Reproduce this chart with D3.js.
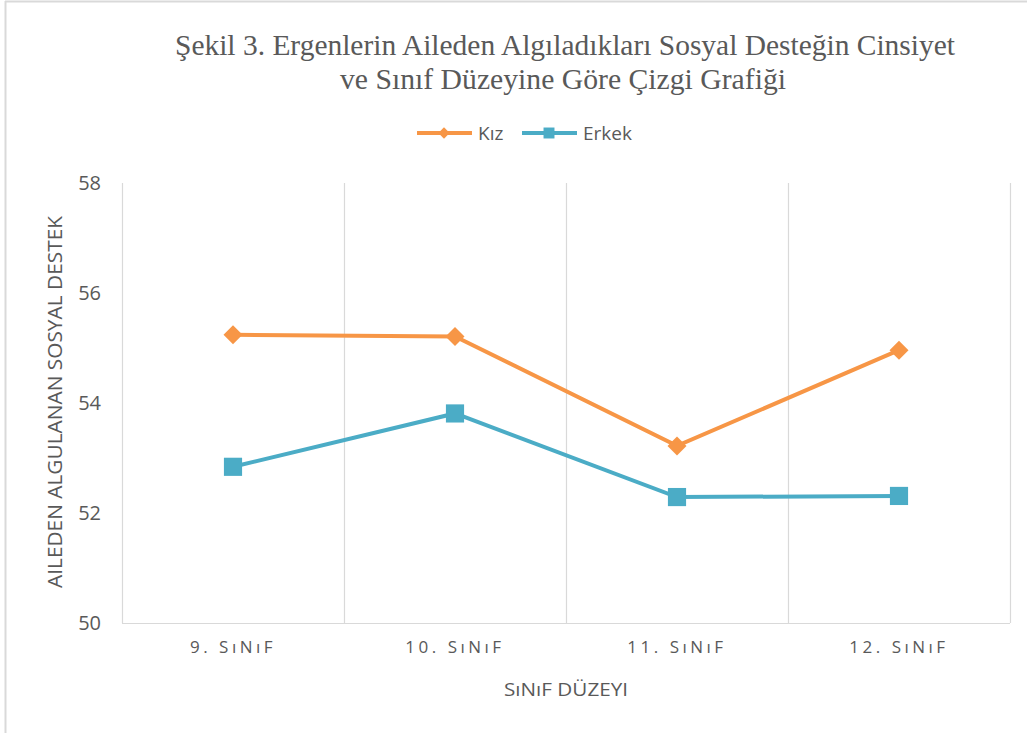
<!doctype html>
<html>
<head>
<meta charset="utf-8">
<title>Şekil 3</title>
<script src="https://d3js.org/d3.v7.min.js"></script>
<style>
  body { margin: 0; background: #fff; }
</style>
</head>
<body>
<script>
// data
var categories = ["9. SıNıF", "10. SıNıF", "11. SıNıF", "12. SıNıF"];
var kizValues = [55.24, 55.21, 53.22, 54.96];
var erkekValues = [52.84, 53.81, 52.29, 52.31];
var yTicks = [50, 52, 54, 56, 58];
var seriesNames = ["Kız", "Erkek"];

var width = 1027, height = 733;
var margin = {left: 122, right: 17, top: 183, bottom: 110};
var sansFont = "'Liberation Sans Narrow', 'Open Sans', sans-serif";

var svg = d3.select("body").append("svg")
    .attr("width", width)
    .attr("height", height);

// outer frame
svg.append("line").attr("x1", 5).attr("x2", width).attr("y1", 1.5).attr("y2", 1.5)
    .style("stroke", "#d9d9d9").style("stroke-width", 2);
svg.append("line").attr("x1", 5.5).attr("x2", 5.5).attr("y1", 1).attr("y2", height)
    .style("stroke", "#d9d9d9").style("stroke-width", 2);

var x = d3.scaleBand()
    .domain(categories)
    .range([margin.left, width - margin.right]);

var y = d3.scaleLinear()
    .domain([50, 58])
    .range([height - margin.bottom, margin.top]);

// vertical gridlines between categories + right edge
var gridX = categories.slice(1).map(function(c) { return x(c); });
gridX.push(x.range()[1]);
svg.selectAll(".grid")
    .data(gridX)
    .enter()
    .append("line")
    .attr("x1", function(d) { return d + 0.5; })
    .attr("x2", function(d) { return d + 0.5; })
    .attr("y1", y(58))
    .attr("y2", y(50))
    .style("stroke", "#d9d9d9")
    .style("stroke-width", 1.2);

// axis lines
svg.append("line").attr("x1", x.range()[0] + 0.5).attr("x2", x.range()[0] + 0.5)
    .attr("y1", y(58)).attr("y2", y(50)).style("stroke", "#d9d9d9").style("stroke-width", 1.2);
svg.append("line").attr("x1", x.range()[0]).attr("x2", x.range()[1])
    .attr("y1", y(50) + 0.5).attr("y2", y(50) + 0.5).style("stroke", "#d9d9d9").style("stroke-width", 1.2);

// y tick labels
var yAxis = d3.axisLeft(y).tickValues(yTicks).tickSize(0).tickPadding(21);
var gy = svg.append("g")
    .attr("transform", "translate(" + x.range()[0] + ",0)")
    .call(yAxis);
gy.select(".domain").remove();
gy.selectAll("text")
    .style("font-family", sansFont)
    .style("font-size", "20px")
    .style("fill", "#595959");

// x tick labels
var xAxis = d3.axisBottom(x).tickSize(0).tickPadding(18);
var gx = svg.append("g")
    .attr("transform", "translate(0," + y(50) + ")")
    .call(xAxis);
gx.select(".domain").remove();
gx.selectAll("text")
    .style("font-family", sansFont)
    .style("font-size", "17px")
    .style("letter-spacing", "3.5px")
    .style("fill", "#595959");

// axis titles
svg.append("text")
    .attr("x", (x.range()[0] + x.range()[1]) / 2)
    .attr("y", 696)
    .attr("text-anchor", "middle")
    .attr("textLength", 124)
    .attr("lengthAdjust", "spacingAndGlyphs")
    .text("SıNıF DÜZEYI")
    .style("font-family", sansFont)
    .style("font-size", "19px")
    .style("fill", "#595959");

svg.append("text")
    .attr("transform", "translate(62,402) rotate(-90)")
    .attr("text-anchor", "middle")
    .attr("textLength", 372)
    .attr("lengthAdjust", "spacingAndGlyphs")
    .text("AILEDEN ALGULANAN SOSYAL DESTEK")
    .style("font-family", sansFont)
    .style("font-size", "20px")
    .style("fill", "#595959");

// title
var title = svg.append("text")
    .attr("text-anchor", "middle")
    .style("font-family", "'Liberation Serif', 'DejaVu Serif', serif")
    .style("font-size", "29px")
    .style("fill", "#595959");
title.append("tspan").attr("x", 565).attr("y", 55)
    .attr("textLength", 780).attr("lengthAdjust", "spacingAndGlyphs")
    .text("Şekil 3. Ergenlerin Aileden Algıladıkları Sosyal Desteğin Cinsiyet");
title.append("tspan").attr("x", 563).attr("y", 89)
    .attr("textLength", 446).attr("lengthAdjust", "spacingAndGlyphs")
    .text("ve Sınıf Düzeyine Göre Çizgi Grafiği");

// lines
var series = [
    {name: seriesNames[0], values: kizValues, color: "#f79646", diamond: true},
    {name: seriesNames[1], values: erkekValues, color: "#4bacc6", diamond: false}
];

var line = d3.line()
    .x(function(d, i) { return x(categories[i]) + x.bandwidth() / 2; })
    .y(function(d) { return y(d); });

series.forEach(function(s) {
    svg.append("path")
        .datum(s.values)
        .attr("d", line)
        .style("fill", "none")
        .style("stroke", s.color)
        .style("stroke-width", 4);

    svg.selectAll(".m-" + s.name)
        .data(s.values)
        .enter()
        .append("path")
        .attr("d", d3.symbol().type(d3.symbolSquare).size(s.diamond ? 180 : 330))
        .attr("transform", function(d, i) {
            return "translate(" + (x(categories[i]) + x.bandwidth() / 2) + "," + y(d) + ")" +
                (s.diamond ? " rotate(45)" : "");
        })
        .style("fill", s.color);
});

// legend
var legendX = [417, 522];
var legend = svg.selectAll(".legend")
    .data(series)
    .enter()
    .append("g")
    .attr("transform", function(d, i) { return "translate(" + legendX[i] + ",133)"; });
legend.append("line")
    .attr("x1", 0).attr("x2", 55)
    .style("stroke", function(d) { return d.color; })
    .style("stroke-width", 4);
legend.append("path")
    .attr("transform", function(d) { return "translate(27,0)" + (d.diamond ? " rotate(45)" : ""); })
    .attr("d", function(d) {
        return d3.symbol().type(d3.symbolSquare).size(d.diamond ? 64 : 120)();
    })
    .style("fill", function(d) { return d.color; });
legend.append("text")
    .attr("x", 61)
    .attr("y", 7)
    .text(function(d) { return d.name; })
    .style("font-family", sansFont)
    .style("font-size", "19px")
    .style("fill", "#595959");
</script>
</body>
</html>
